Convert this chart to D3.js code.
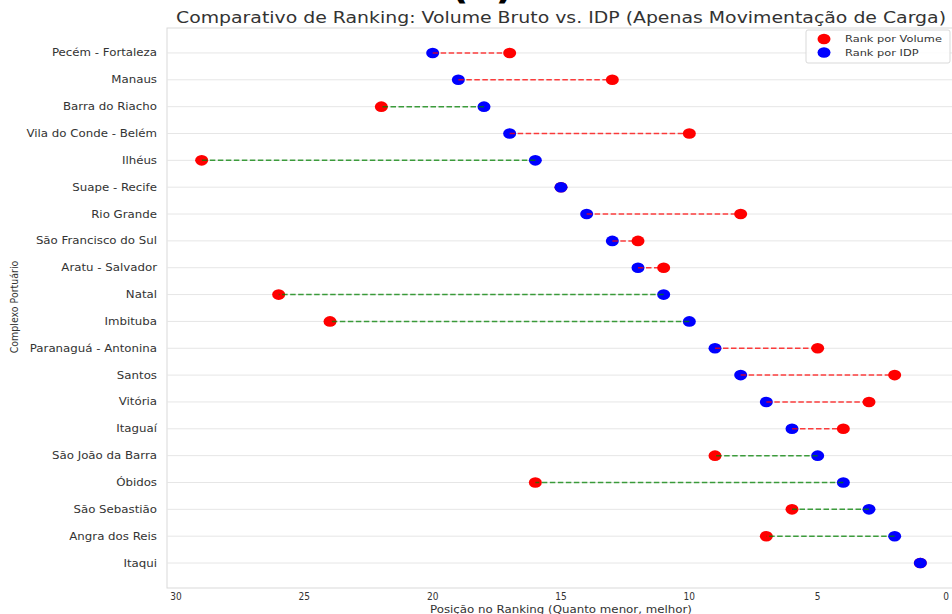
<!DOCTYPE html>
<html><head><meta charset="utf-8">
<script src="https://cdn.jsdelivr.net/npm/d3@7"></script>
<style>
html,body{margin:0;padding:0;background:#fff;overflow:hidden}
text{font-family:"DejaVu Sans",sans-serif;}
.cond{font-family:"DejaVu Sans Condensed","DejaVu Sans",sans-serif;}
</style></head>
<body>
<svg id="c" width="952" height="614"></svg>
<script>
const ports = ["Pecém - Fortaleza","Manaus","Barra do Riacho","Vila do Conde - Belém","Ilhéus","Suape - Recife","Rio Grande","São Francisco do Sul","Aratu - Salvador","Natal","Imbituba","Paranaguá - Antonina","Santos","Vitória","Itaguaí","São João da Barra","Óbidos","São Sebastião","Angra dos Reis","Itaqui"];
const rankVolume = [17,13,22,10,29,15,8,12,11,26,24,5,2,3,4,9,16,6,7,1];
const rankIDP    = [20,19,18,17,16,15,14,13,12,11,10,9,8,7,6,5,4,3,2,1];
const xTicks = [30,25,20,15,10,5,0];
const titleText = "Comparativo de Ranking: Volume Bruto vs. IDP (Apenas Movimentação de Carga)";
const xLabel = "Posição no Ranking (Quanto menor, melhor)";
const yLabel = "Complexo Portuário";
const legendLabels = ["Rank por Volume","Rank por IDP"];

const svg = d3.select("#c");
const L = 167, R = 960, T = 28, B = 588;
const x = d3.scaleLinear().domain([30,0]).range([176,946]);
const y = d3.scaleLinear().domain([-0.93, 19.93]).range([T, B]);

// plot frame
svg.append("rect").attr("x",L).attr("y",T).attr("width",R-L).attr("height",B-T)
  .attr("fill","none").attr("stroke","#d9d9d9").attr("stroke-width",1);

// grid
svg.append("g").selectAll("line").data(ports).join("line")
  .attr("x1",L).attr("x2",R).attr("y1",(d,i)=>y(i)).attr("y2",(d,i)=>y(i))
  .attr("stroke","#e6e6e6").attr("stroke-width",1);

// y tick labels (horizontally stretched like the reference)
svg.append("g").selectAll("text").data(ports).join("text")
  .attr("transform",(d,i)=>`translate(157,${y(i)}) scale(1.18,1)`)
  .attr("dy","0.35em")
  .attr("text-anchor","end").attr("font-size","10px").attr("fill","#333")
  .text(d=>d);

// x ticks
svg.append("g").selectAll("text").data(xTicks).join("text")
  .attr("class","cond")
  .attr("x",d=>x(d)).attr("y",600).attr("text-anchor","middle")
  .attr("font-size","10px").attr("fill","#333").text(d=>d);

// points
const rows = ports.map((p,i)=>({p,i,v:rankVolume[i],d:rankIDP[i]}));
svg.append("g").selectAll("ellipse").data(rows).join("ellipse")
  .attr("cx",d=>x(d.v)).attr("cy",d=>y(d.i)).attr("rx",6.5).attr("ry",5.3)
  .attr("fill","#ff0000");
svg.append("g").selectAll("ellipse").data(rows).join("ellipse")
  .attr("cx",d=>x(d.d)).attr("cy",d=>y(d.i)).attr("rx",6.5).attr("ry",5.3)
  .attr("fill","#0000ff");

// connecting lines
svg.append("g").selectAll("line").data(rows).join("line")
  .attr("x1",d=>x(d.d)).attr("x2",d=>x(d.v)).attr("y1",d=>y(d.i)).attr("y2",d=>y(d.i))
  .attr("stroke",d=>d.d>d.v?"#ff0000":"#008000").attr("stroke-opacity",0.75)
  .attr("stroke-width",1.5).attr("stroke-dasharray","5.5,2.5");

// title
svg.append("text").attr("x",561).attr("y",23).attr("text-anchor","middle")
  .attr("font-size","15.5px").attr("fill","#333")
  .attr("textLength",770).attr("lengthAdjust","spacingAndGlyphs").text(titleText);

// large cut-off suptitle (only the bottom of the glyphs is visible in the reference)
svg.append("text").attr("x",482).attr("y",-2).attr("text-anchor","middle")
  .attr("font-size","40px").attr("font-weight","bold").attr("fill","#000").text("(a)");

// axis labels
svg.append("text").attr("class","cond").attr("x",561).attr("y",613).attr("text-anchor","middle")
  .attr("font-size","10.5px").attr("fill","#333")
  .attr("textLength",262).attr("lengthAdjust","spacingAndGlyphs").text(xLabel);
svg.append("text").attr("class","cond").attr("transform","translate(18,307) rotate(-90)")
  .attr("text-anchor","middle").attr("font-size","10.5px").attr("fill","#333").text(yLabel);

// legend
const lg = svg.append("g");
lg.append("rect").attr("x",806).attr("y",30).attr("width",144).attr("height",33).attr("rx",2)
  .attr("fill","#fff").attr("fill-opacity",0.85).attr("stroke","#d9d9d9");
const lc = ["#ff0000","#0000ff"];
legendLabels.forEach((t,k)=>{
  lg.append("ellipse").attr("cx",824).attr("cy",39+k*13.5).attr("rx",6.5).attr("ry",5.3).attr("fill",lc[k]);
  lg.append("text").attr("transform",`translate(845,${39+k*13.5}) scale(1.2,1)`).attr("dy","0.35em")
    .attr("font-size","9.5px").attr("fill","#333").text(t);
});
</script>
</body></html>
